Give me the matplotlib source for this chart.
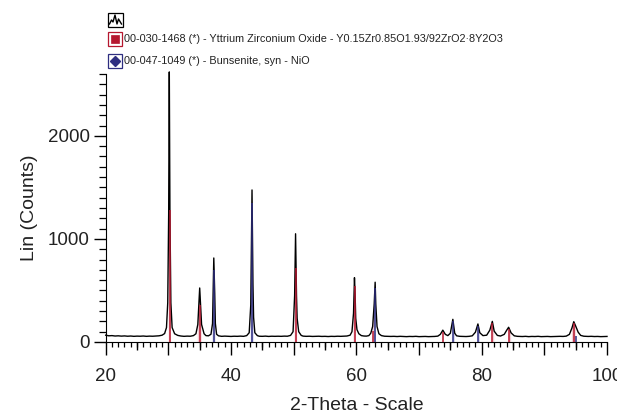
import matplotlib
matplotlib.use("Agg")
import matplotlib.pyplot as plt
import numpy as np
from matplotlib.patches import Rectangle
from matplotlib.lines import Line2D
from matplotlib.ticker import MultipleLocator, FixedLocator, FuncFormatter

plt.rcParams['font.family'] = ['Liberation Sans', 'DejaVu Sans']

two_theta = [20.0, 20.5, 21.0, 21.5, 22.0, 22.5, 23.0, 23.5, 24.0, 24.5, 25.0, 25.5, 26.0, 26.5,
             27.0, 27.5, 28.0, 28.5, 29.0, 29.4, 29.7, 29.9, 30.05, 30.15, 30.25, 30.4, 30.6, 31.0,
             31.5, 32.0, 32.5, 33.0, 33.5, 34.0, 34.4, 34.7, 34.9, 35.0, 35.1, 35.3, 35.7,
             36.0, 36.4, 36.8, 37.05, 37.25, 37.4, 37.5, 37.7, 38.0, 38.5, 39.0, 39.5,
             40.0, 40.5, 41.0, 41.5, 42.0, 42.5, 42.9, 43.15, 43.35, 43.5, 43.6, 43.8, 44.2,
             44.5, 45.0, 45.5, 46.0, 46.5, 47.0, 47.5, 48.0, 48.5, 49.0, 49.5, 49.9, 50.15,
             50.3, 50.45, 50.55, 50.8, 51.2, 51.5, 52.0, 52.5, 53.0, 53.5, 54.0, 54.5, 55.0,
             55.5, 56.0, 56.5, 57.0, 57.5, 58.0, 58.5, 59.0, 59.3, 59.55, 59.7, 59.8, 59.9,
             60.1, 60.4, 60.8, 61.2, 61.6, 62.0, 62.3, 62.6, 62.85, 63.0, 63.1, 63.3, 63.6,
             64.0, 64.5, 65.0, 65.5, 66.0, 66.5, 67.0, 67.5, 68.0, 68.5, 69.0, 69.5, 70.0,
             70.5, 71.0, 71.5, 72.0, 72.5, 73.0, 73.4, 73.8, 74.2, 74.6, 75.0, 75.4, 75.7,
             76.0, 76.5, 77.0, 77.5, 78.0, 78.5, 79.0, 79.4, 79.7, 80.2, 80.8, 81.3, 81.7,
             82.0, 82.5, 83.0, 83.6, 84.0, 84.3, 84.7, 85.2, 85.7, 86.0, 86.5, 87.0, 87.5,
             88.0, 88.5, 89.0, 89.5, 90.0, 90.5, 91.0, 91.5, 92.0, 92.5, 93.0, 93.5, 94.0,
             94.4, 94.7, 95.0, 95.4, 95.8, 96.3, 97.0, 97.5, 98.0, 98.5, 99.0, 99.5, 100.0]
counts = [66, 60, 62, 58, 60, 57, 59, 56, 58, 55, 57, 56, 58, 55,
          57, 56, 58, 60, 66, 82, 140, 380, 1250, 2620, 1250, 380, 140, 80,
          64, 58, 55, 57, 56, 62, 80, 170, 400, 524, 400, 170, 80,
          62, 60, 75, 180, 815, 470, 180, 75, 60, 55, 57, 56,
          54, 56, 55, 57, 55, 62, 90, 360, 1475, 560, 240, 90, 62,
          56, 55, 57, 54, 56, 55, 56, 55, 57, 56, 64, 100, 450,
          1050, 450, 230, 100, 64, 57, 55, 56, 54, 55, 56, 54, 55,
          53, 55, 54, 56, 55, 56, 58, 66, 100, 280, 624, 470, 230,
          120, 80, 62, 58, 57, 62, 85, 150, 370, 580, 370, 150, 80,
          62, 56, 55, 54, 55, 53, 55, 54, 52, 54, 53, 55, 52,
          53, 54, 52, 53, 54, 57, 74, 115, 74, 62, 85, 220, 85,
          60, 55, 54, 53, 55, 60, 95, 175, 90, 62, 66, 115, 200,
          105, 64, 58, 74, 115, 143, 88, 60, 55, 54, 53, 55, 52,
          54, 53, 55, 52, 53, 54, 52, 53, 54, 55, 54, 57, 74,
          135, 197, 155, 95, 64, 56, 54, 55, 53, 54, 52, 53, 54]

# reference sticks
ysz_pos = [30.2, 35.0, 50.3, 59.8, 62.7, 73.8, 81.7, 84.4, 94.7]
ysz_int = [1280, 360, 720, 540, 110, 100, 180, 130, 180]
nio_pos = [37.3, 43.35, 62.95, 75.4, 79.4, 95.1]
nio_int = [700, 1350, 520, 200, 160, 60]

ysz_label = "00-030-1468 (*) - Yttrium Zirconium Oxide - Y0.15Zr0.85O1.93/92ZrO2\u00b78Y2O3"
nio_label = "00-047-1049 (*) - Bunsenite, syn - NiO"

red = "#b5172f"
navy = "#2e2e80"
txt = "#222222"

W, H = 617, 418
fig = plt.figure(figsize=(W / 100, H / 100), dpi=100)
ax = fig.add_axes([105.7 / W, 1 - 342 / H, (607 - 105.7) / W, (342 - 74) / H])

x = np.array(two_theta)
y = np.array(counts)

# light shading under the peaks that match each phase
for pos, col in [(ysz_pos, "#f0c4cb"), (nio_pos, "#c4c4e6")]:
    mask = np.zeros_like(x, dtype=bool)
    for p in pos:
        mask |= np.abs(x - p) <= 0.3
    ax.fill_between(x, 0, y, where=mask, color=col, alpha=0.8, lw=0, zorder=1)

ax.vlines(ysz_pos, 0, ysz_int, color=red, lw=1.1, zorder=3)
ax.vlines(nio_pos, 0, nio_int, color=navy, lw=1.1, zorder=3)
ax.plot(x, y, color="black", lw=1.0, zorder=2, clip_on=False)

ax.set_xlim(20, 100)
ax.set_ylim(0, 2600)

for s in ["top", "right"]:
    ax.spines[s].set_visible(False)

ax.xaxis.set_major_locator(MultipleLocator(10))
ax.xaxis.set_major_formatter(FuncFormatter(lambda v, p: f"{v:.0f}" if round(v) % 20 == 0 else ""))
ax.xaxis.set_minor_locator(MultipleLocator(1))
ax.yaxis.set_major_locator(MultipleLocator(1000))
ax.yaxis.set_minor_locator(MultipleLocator(100))
ax.tick_params(axis="x", which="major", length=9.5, width=1, labelsize=13.5, pad=9,
               labelcolor=txt)
ax.tick_params(axis="x", which="minor", length=3.5, width=0.9)
ax.tick_params(axis="y", which="major", length=8.5, width=1, labelsize=13.5, pad=3,
               labelcolor=txt)
ax.tick_params(axis="y", which="minor", length=5, width=0.9)

sec = ax.secondary_xaxis("bottom")
sec.xaxis.set_major_locator(FixedLocator(np.arange(25, 100, 10)))
sec.tick_params(length=6, width=1, labelbottom=False)
sec.spines["bottom"].set_visible(False)

ax.set_xlabel("2-Theta - Scale", fontsize=14, labelpad=9, color=txt)
ax.set_ylabel("Lin (Counts)", fontsize=14, labelpad=7, color=txt)

# legend block at the top
def fx(px):
    return px / W

def fy(py):
    return 1 - py / H

fig.add_artist(Rectangle((fx(108), fy(27)), 15 / W, 14 / H, transform=fig.transFigure,
                         fill=False, ec="black", lw=0.9))
fig.add_artist(Line2D([fx(109.5), fx(111.5), fx(113), fx(115), fx(117), fx(118.5), fx(121.5)],
                      [fy(24), fy(20), fy(22), fy(15), fy(24), fy(19), fy(24)],
                      transform=fig.transFigure, color="black", lw=1))
fig.add_artist(Rectangle((fx(108), fy(46)), 14 / W, 14 / H, transform=fig.transFigure,
                         fill=False, ec=red, lw=0.9))
fig.add_artist(Rectangle((fx(111), fy(43)), 8 / W, 8 / H, transform=fig.transFigure,
                         fc=red, ec=red, lw=0.5))
fig.add_artist(Rectangle((fx(108), fy(68)), 14 / W, 14 / H, transform=fig.transFigure,
                         fill=False, ec=navy, lw=0.9))
fig.add_artist(Line2D([fx(115)], [fy(61)], transform=fig.transFigure, marker="D",
                      ms=5.5, color=navy, lw=0))
fig.text(fx(124), fy(39.5), ysz_label, fontsize=7.8, va="center", ha="left", color=txt)
fig.text(fx(124), fy(61.5), nio_label, fontsize=7.8, va="center", ha="left", color=txt)

fig.savefig("out.png", dpi=100)
